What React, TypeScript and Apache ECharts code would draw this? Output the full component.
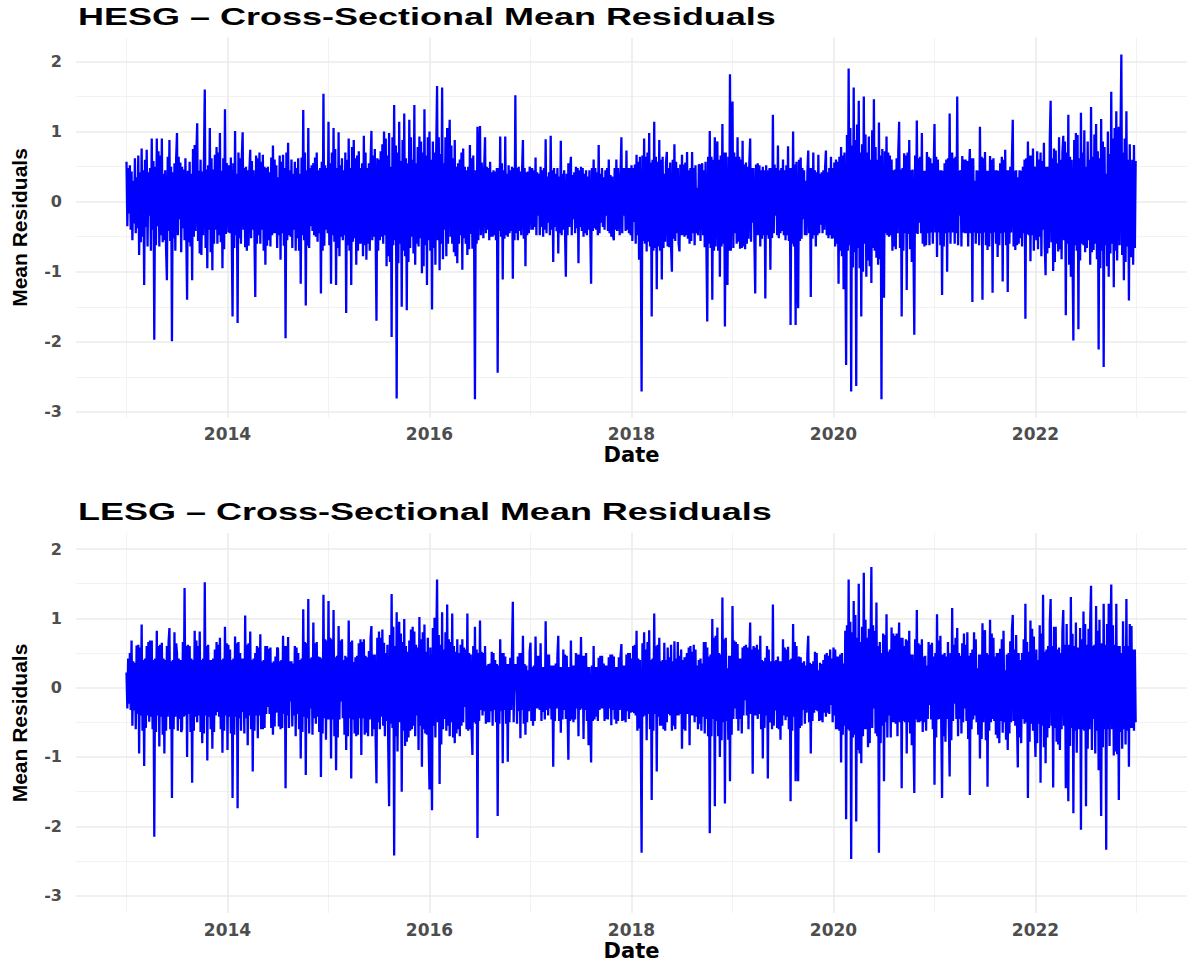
import React, { useEffect, useRef } from "react";
import * as echarts from "echarts";

// ---------- data (three values per ~1/40 year) ----------
const startYear = 2013;
const stepsPerYear = 120;

const panelTitles = [
  "HESG \u2013 Cross-Sectional Mean Residuals",
  "LESG \u2013 Cross-Sectional Mean Residuals",
];

const hesgValues = [
  0.57,-0.35,0.48,-0.17,0.52,-0.4,0.43,-0.55,0.3,-0.31,0.62,-0.45,0.35,-0.38,0.66,-0.76,0.42,-0.58,0.76,-0.5,0.45,-1.19,0.6,-0.36,0.74,-0.64,0.42,-0.2,0.48,-0.7,0.9,-0.4,0.58,-1.97,0.5,-0.62,0.9,-0.35,0.72,-0.64,0.66,-0.48,0.9,-0.58,0.4,-0.55,0.45,-0.66,-1.12,0.64,-0.42,0.88,-0.56,0.5,-1.99,0.42,-0.52,0.55,-0.7,0.62,
  0.98,-0.48,0.64,-0.25,0.56,-0.72,0.5,-0.38,0.46,-0.55,0.62,-0.45,-1.40,0.44,-0.58,0.57,-0.64,0.4,-1.12,0.75,-0.5,0.81,-0.42,0.68,1.12,-0.56,0.44,-0.74,0.6,-0.76,0.43,-0.48,0.58,1.60,-0.66,0.46,-0.95,0.52,-0.4,1.05,-0.72,0.62,-0.98,0.46,-0.6,0.67,-0.4,0.78,-0.6,0.7,-0.48,0.98,-0.58,0.44,-0.95,0.62,-0.68,1.32,-0.46,0.55,
  0.38,-0.44,0.52,-0.45,0.63,-0.42,-1.64,0.55,-0.66,1.01,-0.48,0.4,-1.73,0.7,-0.52,0.62,-0.6,0.64,0.99,-0.4,0.48,-0.65,0.5,-0.7,0.45,-0.63,0.44,0.74,-0.52,0.58,-0.4,0.45,-0.48,-1.36,0.66,-0.6,0.62,-0.48,0.7,-0.6,0.57,-0.4,0.67,-0.7,0.5,-0.9,0.48,-0.63,0.5,-0.55,0.42,-0.64,0.63,-0.48,0.80,-0.45,0.6,-0.45,0.52,-0.66,
  0.35,-0.48,0.66,-0.83,0.57,-0.45,0.67,-0.63,0.48,-1.95,0.7,-0.55,0.84,-0.48,0.45,-0.5,0.6,-0.66,0.4,-0.4,0.57,-0.7,0.48,-0.52,0.62,-0.7,0.4,-1.17,0.63,-0.48,1.31,-0.55,0.7,-1.48,0.45,-0.63,1.05,-0.66,0.48,-0.35,0.52,-0.42,0.55,-0.48,0.63,-0.5,0.7,-0.57,0.45,-0.45,0.48,-1.31,0.57,-0.7,1.54,-0.63,0.52,-0.4,0.48,-0.45,
  1.14,-0.62,0.55,-1.17,0.7,-0.48,1.05,-0.57,0.75,-1.19,0.48,-0.66,0.99,-0.78,0.52,-0.5,0.62,-0.55,0.45,-0.48,0.7,-1.59,0.6,-0.62,0.90,-0.7,0.48,-1.19,0.78,-0.57,0.88,-0.52,0.62,-0.9,0.66,-0.7,0.72,-0.6,0.48,-0.6,0.55,-0.78,0.94,-0.62,0.7,-0.83,0.48,-0.6,0.55,-0.7,0.57,1.01,-0.55,0.66,-0.5,0.75,-0.48,-1.70,0.62,-0.7,
  0.6,-0.55,0.72,-0.5,0.82,-0.6,1.0,-0.48,0.9,-0.92,0.66,-0.78,0.98,-0.86,0.5,-1.93,0.92,-0.62,1.38,-0.55,0.8,-2.81,0.7,-0.88,1.14,-0.6,0.58,-1.50,0.88,-0.7,1.26,-0.78,0.62,-1.55,0.55,-0.86,1.17,-0.66,0.92,-0.5,0.6,-0.74,1.38,-0.9,0.55,-0.6,0.78,-0.64,0.93,-0.52,0.86,-1.02,0.7,-0.92,1.32,-0.62,0.66,-1.19,0.92,-0.55,
  1.0,-0.7,0.6,-1.54,0.86,-0.66,0.7,-0.9,0.74,1.65,-0.55,0.92,-0.98,0.68,-0.6,1.63,-0.82,0.55,-0.4,0.92,-0.78,1.05,-0.6,0.7,1.17,-0.5,0.8,-0.6,0.62,-0.72,0.88,-0.78,0.5,-0.88,0.55,-0.6,0.6,-0.48,0.7,-0.97,0.76,-0.52,0.5,-0.6,0.45,-0.76,0.5,-0.68,0.81,-0.46,0.62,-0.67,0.66,-0.5,-2.82,0.45,-0.6,1.07,-0.55,0.48,
  1.08,-0.48,0.56,0.2,-0.52,0.48,0.92,-0.45,0.5,-0.4,0.48,-0.55,0.57,-0.5,0.42,-0.5,0.45,-0.48,0.43,-0.55,0.48,-2.44,0.48,-0.42,0.93,-0.5,0.55,-1.11,0.45,-0.53,0.93,-0.48,0.4,-0.5,0.52,-0.45,0.45,-0.42,0.5,-1.10,0.48,-0.55,1.52,-0.45,0.48,-0.55,0.5,-0.42,0.43,-0.48,0.45,0.88,-0.53,0.48,-0.92,0.42,-0.48,0.43,-0.45,0.5,
  0.43,-0.4,0.48,-0.4,0.45,-0.36,0.63,-0.48,0.42,-0.2,0.4,-0.48,0.5,-0.36,0.45,-0.5,0.48,-0.4,0.89,-0.45,0.36,-0.3,0.42,-0.48,0.94,-0.4,0.45,-0.86,0.48,-0.36,0.4,-0.42,0.48,-0.74,0.36,-0.45,0.87,-0.48,0.4,-0.4,0.45,-0.42,-1.07,0.4,-0.48,0.55,-0.36,0.45,0.64,-0.48,0.38,-0.25,0.42,-0.45,0.5,-0.38,0.48,-0.88,0.45,-0.36,
  0.5,-0.42,0.48,-0.5,0.4,-0.45,0.45,-0.48,0.36,-0.4,0.45,-0.4,-1.17,0.48,-0.42,0.6,-0.38,0.48,-0.4,0.42,-0.48,0.81,-0.45,0.4,-0.3,0.48,-0.36,0.35,-0.4,0.45,-0.2,0.48,-0.42,0.6,-0.45,0.38,-0.5,0.36,-0.48,-0.55,0.48,-0.4,0.6,-0.42,0.48,0.1,-0.48,0.4,0.92,-0.45,0.48,-0.2,0.48,-0.42,0.73,-0.4,0.48,-0.45,0.48,-0.48,
  0.52,-0.56,0.48,-0.29,0.53,-0.6,0.67,-0.48,0.57,-0.83,0.64,-0.48,-2.71,0.66,-0.56,0.90,-0.6,0.64,-0.71,0.7,-0.57,0.98,-0.64,0.56,-1.64,0.6,-0.7,1.14,-0.66,0.64,-1.25,0.57,-0.64,0.88,-0.7,0.6,-1.11,0.64,-0.66,0.4,-0.57,0.56,0.71,-0.64,0.48,-0.65,0.56,-0.64,-1.0,0.6,-0.53,0.82,-0.56,0.57,-0.45,0.48,-0.6,-0.71,0.53,-0.48,
  0.67,-0.48,0.53,-0.5,0.56,-0.48,0.71,-0.53,0.45,-0.6,0.48,-0.56,0.71,-0.45,0.48,-0.62,0.52,-0.45,0.2,-0.48,0.53,0.52,-0.56,0.48,0.55,-0.48,0.45,-0.65,0.57,-0.64,-1.71,0.64,-0.6,1.01,-0.66,0.64,-1.40,0.6,-0.7,0.92,-0.64,0.66,0.86,-0.7,0.6,-1.07,0.66,-0.64,1.11,-0.6,0.7,-1.78,0.7,-0.66,-1.19,0.64,-0.7,1.82,-0.7,0.78,
  1.43,-0.66,0.7,-0.45,0.64,-0.6,0.92,-0.57,0.64,-0.67,0.6,-0.66,0.87,-0.64,0.53,-0.68,0.56,-0.6,0.5,-0.53,0.56,0.90,-0.57,0.48,-0.3,0.48,-0.56,-1.31,0.53,-0.48,0.55,-0.48,0.52,-0.64,0.45,-0.53,0.5,-0.48,0.45,-1.38,0.52,-0.48,0.45,-0.53,0.48,-0.97,0.48,-0.52,1.24,-0.45,0.53,-0.2,0.48,-0.48,0.8,-0.52,0.45,-0.45,0.48,-0.42,
  0.6,-0.48,0.45,-0.55,0.52,-0.48,0.79,-0.56,0.48,-1.76,0.48,-0.6,1.0,-0.64,0.53,-1.76,0.57,-0.64,-1.52,0.6,-0.56,0.63,-0.53,0.48,-0.25,0.45,-0.48,0.3,-0.48,0.42,0.73,-0.45,0.48,-1.36,0.48,-0.53,0.7,-0.48,0.45,-0.64,0.42,-0.48,0.67,-0.45,0.4,-0.33,0.42,-0.45,0.45,-0.4,0.48,0.73,-0.48,0.42,-0.52,0.48,-0.48,0.64,-0.53,0.48,
  -0.52,0.56,-0.64,0.6,-0.6,0.57,-1.17,0.64,-0.7,0.78,-0.78,0.66,-1.25,0.7,-0.6,-2.33,0.95,-0.7,1.90,-0.62,1.05,-2.71,0.8,-0.94,1.63,-0.72,0.88,-2.63,1.1,-0.66,1.44,-0.95,0.7,-1.64,0.82,-1.0,1.5,-0.6,0.96,-1.07,0.7,-0.84,0.93,-0.92,0.6,-1.16,1.02,-0.66,1.46,-0.7,0.78,-0.8,0.6,-0.9,1.13,-0.82,0.66,-2.82,0.75,-0.58,
  -1.37,0.72,-0.45,0.93,-0.48,0.7,-0.5,0.66,-0.48,0.6,-0.7,0.45,-0.64,0.46,-0.68,0.62,-0.45,0.72,1.14,-0.66,0.46,-1.64,0.48,-0.7,0.69,-0.45,0.66,-1.26,0.7,-0.46,0.88,-0.68,0.45,-0.86,0.46,-0.66,-1.90,0.66,-0.45,1.16,-0.46,0.62,-0.3,0.64,-0.45,0.98,-0.6,0.44,-0.64,0.44,-0.62,0.71,-0.45,0.64,-0.62,0.62,-0.44,0.55,-0.6,0.45,
  1.11,-0.44,0.64,-0.79,0.6,-0.44,0.45,-0.62,0.45,-1.33,0.44,-0.64,0.55,-0.45,0.6,-1.0,0.62,-0.44,1.26,-0.6,0.45,0.7,-0.44,0.62,-0.6,0.64,-0.45,1.5,-0.62,0.44,-0.2,0.45,-0.64,0.65,-0.44,0.6,-0.45,0.6,-0.45,0.58,-0.64,0.44,0.75,-0.45,0.62,-1.43,0.62,-0.44,0.3,-0.6,0.45,-0.45,0.44,-0.62,1.07,-0.45,0.64,-1.40,0.62,-0.44,
  0.71,-0.62,0.44,-0.69,0.44,-0.64,0.65,-0.45,0.6,-1.30,0.62,-0.44,0.45,-0.6,0.45,-0.79,0.44,-0.62,0.55,-0.45,0.64,-1.14,0.6,-0.44,0.74,-0.62,0.45,-1.29,0.45,-0.6,0.5,-0.44,0.62,1.17,-0.64,0.44,-0.69,0.45,-0.62,0.35,-0.6,0.45,-0.52,0.44,-0.64,0.5,-0.45,0.6,-1.67,0.62,-0.46,0.86,-0.48,0.66,-0.85,0.66,-0.48,0.76,-0.7,0.5,
  0.4,-0.55,0.72,-0.68,0.6,-0.5,0.70,-0.78,0.58,-0.4,0.84,-0.62,-1.05,0.5,-0.74,0.5,-0.66,0.9,1.44,-0.58,0.62,-0.99,0.76,-0.86,0.73,-0.6,0.55,-0.71,0.92,-0.68,0.6,-0.82,0.7,0.94,-0.55,0.86,-1.62,0.7,-0.6,1.24,-0.9,0.64,-1.07,0.6,-0.78,-1.98,0.88,-0.62,0.98,-0.7,0.95,-1.82,0.62,-0.84,1.27,-0.6,0.7,-0.62,1.02,-0.72,
  0.5,-0.66,0.86,-0.55,0.6,-0.9,1.35,-0.72,0.64,-0.69,0.96,-0.6,1.11,-0.82,0.72,-2.11,0.62,-0.95,1.18,-0.7,0.86,-2.36,0.78,-0.62,0.4,-0.92,1.0,-1.07,0.68,-0.74,1.57,-0.6,0.9,-1.22,1.05,-0.7,1.29,-0.84,0.62,1.07,-0.62,0.96,2.10,-0.76,0.7,-1.12,0.9,-0.86,1.29,-0.64,0.6,-1.41,0.82,-0.7,-0.79,0.6,-0.9,0.81,-0.66,0.58,
];

const lesgValues = [
  0.22,-0.3,0.42,-0.23,0.5,-0.32,0.68,-0.55,0.38,-0.33,0.36,-0.6,0.61,-0.38,0.62,-0.95,0.58,-0.4,0.91,-0.62,0.4,-1.13,0.42,-0.58,0.6,-0.4,0.66,-0.49,0.68,-0.42,0.68,-0.6,0.4,-2.15,0.42,-0.64,0.82,-0.4,0.6,-0.85,0.62,-0.42,0.65,-0.68,0.42,-0.95,0.4,-0.62,0.6,-0.42,0.66,0.86,-0.6,0.38,-1.59,0.4,-0.6,0.8,-0.42,0.64,
  0.5,-0.62,0.42,-0.45,0.4,-0.64,-0.6,0.66,-0.42,1.44,-0.4,0.6,-1.0,0.62,-0.38,0.6,-0.64,0.42,-1.37,0.4,-0.62,0.82,-0.42,0.68,-0.5,0.6,-0.4,0.81,-0.64,0.4,-0.8,0.42,-0.66,1.52,-0.4,0.6,-1.05,0.62,-0.42,0.4,-0.6,0.4,-0.88,0.42,-0.64,0.55,-0.4,0.66,-0.35,0.62,-0.42,0.72,-0.6,0.4,-0.94,0.42,-0.62,0.88,-0.4,0.64,
  -0.9,0.62,-0.42,0.55,-0.66,0.4,-1.59,0.42,-0.68,0.74,-0.42,0.64,-1.74,0.66,-0.44,0.5,-0.62,0.42,-0.35,0.42,-0.66,1.04,-0.44,0.62,-0.83,0.64,-0.4,0.81,-0.6,0.4,-1.21,0.42,-0.62,0.5,-0.4,0.6,-0.73,0.58,-0.4,0.77,-0.6,0.38,-0.6,0.4,-0.58,0.6,-0.38,0.6,-0.28,0.56,-0.38,0.58,-0.58,0.36,-0.68,0.38,-0.56,0.45,-0.36,0.58,
  0.56,-0.56,0.38,-0.6,0.4,-0.58,0.75,-0.38,0.6,-1.45,0.6,-0.4,0.73,-0.58,0.38,-0.2,0.38,-0.56,0.35,-0.4,0.6,-0.7,0.58,-0.38,0.5,-0.6,0.4,-1.02,0.42,-0.64,1.13,-0.42,0.66,-1.26,0.64,-0.44,1.28,-0.66,0.42,-0.3,0.44,-0.68,0.94,-0.44,0.64,-0.52,0.66,-0.42,0.45,-0.64,0.44,-1.29,0.42,-0.66,1.34,-0.44,0.7,-0.75,0.68,-0.46,
  1.25,-0.46,0.72,-1.02,0.7,-0.46,1.12,-0.7,0.44,-1.19,0.46,-0.72,0.89,-0.46,0.68,-0.2,0.7,-0.44,0.4,-0.68,0.46,-0.9,0.44,-0.7,0.97,-0.44,0.66,-1.31,0.68,-0.46,0.37,-0.66,0.44,-0.7,0.46,-0.68,0.64,-0.44,0.7,-0.97,0.66,-0.44,0.7,-0.68,0.46,-0.65,0.44,-0.7,0.53,-0.46,0.72,0.89,-0.7,0.48,-0.6,0.48,-0.74,-1.38,0.72,-0.5,
  0.81,-0.6,0.72,-0.42,0.84,-0.55,0.65,-0.7,0.5,-0.48,0.62,-0.86,-1.71,0.76,-0.52,1.35,-0.58,0.88,-2.42,0.6,-0.7,1.09,-0.92,0.55,0.95,-0.5,0.78,-1.50,0.66,-0.62,0.99,-0.84,0.6,-0.78,0.52,-0.72,0.68,-0.62,0.84,-0.6,0.88,-0.55,0.81,-0.7,0.62,-0.4,0.58,-0.9,1.02,-0.55,0.7,-1.14,0.8,-0.6,0.91,-0.66,0.52,-0.68,0.72,-0.78,
  -1.47,0.58,-0.66,-1.77,0.86,-0.55,1.01,-0.72,0.6,1.56,-0.5,0.76,-1.39,0.62,-0.82,1.09,-0.6,0.55,-0.45,0.8,-0.62,1.2,-0.55,0.7,-0.7,0.66,-0.5,1.07,-0.72,0.6,-0.8,0.52,-0.66,0.7,-0.6,0.5,-0.7,0.62,-0.55,0.7,-0.5,0.58,-0.28,0.55,-0.6,1.07,-0.62,0.5,-0.6,0.48,-0.58,-0.97,0.6,-0.5,0.88,-0.52,0.55,-2.17,0.5,-0.48,
  0.97,-0.32,0.52,-0.4,0.5,-0.34,0.6,-0.52,0.32,-0.5,0.34,-0.5,0.35,-0.34,0.52,-0.55,0.5,-0.32,0.4,-0.5,0.34,-1.85,0.32,-0.52,0.70,-0.34,0.5,-1.09,0.5,-0.32,0.45,-0.52,0.34,-1.07,0.34,-0.5,0.43,-0.32,0.52,1.24,-0.5,0.34,-0.05,0.34,-0.52,0.45,-0.34,0.5,-0.73,0.5,-0.32,0.75,-0.52,0.34,-0.68,0.32,-0.5,0.25,-0.34,0.52,
  0.65,-0.48,0.3,-0.55,0.32,-0.48,0.74,-0.3,0.46,-0.3,0.46,-0.32,0.64,-0.48,0.3,-0.35,0.3,-0.46,0.96,-0.32,0.48,-0.4,0.48,-0.3,0.32,-0.46,0.32,-1.14,0.32,-0.48,0.35,-0.3,0.46,0.75,-0.48,0.3,-0.65,0.3,-0.46,0.55,-0.32,0.48,-0.45,0.46,-0.3,-1.04,0.3,-0.48,0.68,-0.46,0.32,-0.5,0.32,-0.46,0.5,-0.3,0.48,-0.7,0.48,-0.32,
  0.73,-0.3,0.46,-0.74,0.46,-0.32,0.5,-0.48,0.3,-0.83,0.3,-0.46,-1.08,0.32,-0.48,0.6,-0.46,0.3,-0.42,0.3,-0.48,0.43,-0.32,0.46,-0.3,0.46,-0.3,0.35,-0.48,0.32,-0.45,0.32,-0.46,0.44,-0.3,0.48,-0.54,0.48,-0.32,0.45,-0.46,0.3,-0.52,0.3,-0.48,0.44,-0.32,0.46,0.63,-0.48,0.32,-0.47,0.32,-0.5,0.48,-0.34,0.5,-0.45,0.5,-0.36,
  0.42,-0.35,0.6,-0.37,0.62,-0.4,0.82,-0.62,0.42,-0.59,0.4,-0.66,-2.38,0.64,-0.42,0.8,-0.4,0.55,-0.76,0.66,-0.38,0.83,-0.6,0.4,-1.62,0.42,-0.62,1.07,-0.38,0.6,-1.21,0.62,-0.42,0.72,-0.55,0.38,-0.55,0.4,-0.6,0.65,-0.62,0.4,-0.5,0.58,-0.38,0.44,-0.4,0.62,-0.62,0.38,-0.55,0.67,-0.6,0.42,-0.4,0.66,-0.4,0.46,-0.38,0.55,
  -0.88,0.4,-0.6,0.44,-0.62,0.38,0.5,-0.38,0.58,-0.83,0.6,-0.4,0.52,-0.4,0.62,-0.5,0.55,-0.42,0.32,-0.6,0.4,-0.52,0.42,-0.62,0.35,-0.42,0.66,-0.66,0.66,-0.45,0.58,-0.7,0.45,-2.10,0.48,-0.7,0.99,-0.45,0.72,-1.71,0.75,-0.48,0.87,-0.7,0.5,-1.0,0.48,-0.76,1.30,-0.5,0.7,-1.67,0.72,-0.48,0.28,-0.75,0.46,-1.35,0.46,-0.68,
  1.18,-0.45,0.68,-0.3,0.66,-0.45,0.63,-0.62,0.42,-0.45,0.42,-0.66,0.58,-0.4,0.6,-0.18,0.62,-0.4,0.58,-0.6,0.4,0.94,-0.38,0.55,-1.24,0.6,-0.4,0.58,-0.4,0.62,-0.45,0.55,-0.38,0.75,-0.6,0.4,-1.02,0.38,-0.58,0.43,-0.4,0.6,-1.31,0.55,-0.4,-0.5,0.38,-0.6,1.20,-0.55,0.38,-0.33,0.4,-0.58,0.45,-0.6,0.38,-0.75,0.38,-0.55,
  0.7,-0.4,0.58,-0.47,0.55,-0.42,0.59,-0.6,0.4,-1.64,0.42,-0.62,0.92,-0.42,0.66,-1.35,0.6,-0.45,-1.35,0.45,-0.58,0.44,-0.55,0.36,-0.32,0.38,-0.52,0.32,-0.36,0.5,0.75,-0.5,0.36,-0.95,0.34,-0.48,0.38,-0.36,0.52,-0.32,0.5,-0.34,0.25,-0.48,0.36,-0.47,0.34,-0.5,0.4,-0.36,0.48,-0.42,0.5,-0.36,0.46,-0.38,0.55,-0.25,0.42,-0.5,
  0.58,-0.4,0.55,-0.6,0.45,-0.6,0.45,-0.62,0.48,-1.08,0.5,-0.68,0.35,-0.55,0.82,-1.90,0.9,-0.6,1.56,-0.62,0.95,-2.47,0.8,-0.72,1.25,-0.68,1.05,-1.93,0.72,-0.9,1.50,-0.95,0.66,-1.09,0.88,-0.7,1.66,-0.6,0.98,-0.6,0.72,-0.86,0.85,-0.8,0.6,1.74,-0.58,0.9,-0.3,0.82,-0.66,1.23,-0.7,0.6,-2.38,0.66,-0.8,0.5,-0.55,0.78,
  -1.35,0.76,-0.5,1.06,-0.72,0.52,-0.4,0.55,-0.72,0.87,-0.5,0.78,-0.5,0.75,-0.52,0.78,-0.7,0.5,0.94,-0.5,0.72,-1.45,0.72,-0.48,0.6,-0.5,0.7,-0.95,0.68,-0.5,0.82,-0.66,0.48,-0.83,0.48,-0.7,-1.52,0.7,-0.46,1.12,-0.5,0.64,-0.5,0.62,-0.48,0.7,-0.64,0.45,-0.5,0.46,-0.62,0.32,-0.45,0.66,-0.25,0.62,-0.46,0.65,-0.6,0.45,
  -1.40,0.5,-0.72,1.06,-0.46,0.68,-0.45,0.75,-0.5,-1.59,0.48,-0.7,0.5,-0.78,0.45,-0.45,0.66,-0.48,-1.28,0.5,-0.76,1.15,-0.48,0.62,-0.23,0.72,-0.45,0.86,-0.7,0.5,-0.45,0.46,-0.66,0.64,-0.5,0.78,-0.3,0.62,-0.48,0.8,-0.74,0.46,-1.55,0.5,-0.6,0.55,-0.46,0.8,-0.4,0.7,-0.5,0.28,-0.68,0.48,-1.02,0.48,-0.74,0.93,-0.5,0.7,
  0.83,-0.76,0.5,-1.43,0.48,-0.62,0.98,-0.5,0.78,-0.45,0.72,-0.48,0.45,-0.68,0.5,-0.73,0.5,-0.8,0.56,-0.48,0.7,-0.65,0.82,-0.5,0.25,-0.75,0.48,-0.9,0.5,-0.66,0.67,-0.5,0.84,1.05,-0.48,0.55,-0.55,0.76,-0.5,-1.15,0.5,-0.72,0.4,-0.8,0.5,-0.45,0.7,-0.52,1.21,-0.5,0.66,-1.59,0.52,-0.78,0.97,-0.52,0.85,-0.62,0.74,-0.55,
  -1.0,0.55,-0.8,0.4,-0.52,0.9,-1.37,0.78,-0.55,1.34,-0.86,0.52,-1.09,0.55,-0.72,0.6,-0.58,0.95,1.28,-0.55,0.6,-1.44,0.88,-0.58,0.88,-0.78,0.55,-0.82,0.58,-0.9,0.5,-0.6,0.82,1.12,-0.55,0.62,-1.45,0.92,-0.6,-1.64,0.62,-0.84,1.31,-0.58,0.78,-1.81,0.6,-0.62,0.94,-0.94,0.58,0.3,-0.6,0.86,-2.05,0.7,-0.6,1.1,-0.62,0.92,
  -1.71,0.62,-0.88,0.85,-0.6,0.96,1.47,-0.9,0.6,-0.45,0.62,-0.95,1.18,-0.62,0.82,-1.19,0.98,-0.6,-1.85,0.64,-0.86,1.21,-0.6,0.62,-2.34,0.92,-0.6,1.21,-0.84,0.64,1.49,-0.6,0.9,-0.98,0.62,-0.92,1.21,-0.96,0.6,-1.62,0.6,-0.64,0.5,-0.88,0.96,-0.6,0.6,-0.82,1.28,-0.62,0.6,-1.14,0.92,-0.58,0.89,-0.58,0.55,-0.62,0.55,-0.5,
];

const xTickYears = [2014, 2016, 2018, 2020, 2022];
const xMinorYears = [2013, 2015, 2017, 2019, 2021, 2023];
const yTickValues = [-3, -2, -1, 0, 1, 2];
const yMinorValues = [-2.5, -1.5, -0.5, 0.5, 1.5];
const xRange = [2012.5, 2023.5];
const yRanges = [
  [-3.08, 2.343],
  [-3.251, 2.232],
];

// ---------- layout ----------
const grids = [
  { left: 76, top: 37.5, width: 1111, height: 380 },
  { left: 76, top: 533, width: 1111, height: 380 },
];
const titleCenters = [16.5, 511.5];

const GRID_MAJOR = { color: "#EBEBEB", width: 1.6, type: "solid" as const };
const GRID_MINOR = { color: "#F0F0F0", width: 0.9, type: "solid" as const };

function toPairs(values: number[]) {
  return values.map((v, i) => [startYear + i / stepsPerYear, v]);
}

export default function App() {
  const ref = useRef<HTMLDivElement | null>(null);

  useEffect(() => {
    if (!ref.current) return;
    const chart = echarts.init(ref.current, null, { renderer: "svg" });
    const seriesValues = [hesgValues, lesgValues];

    const xAxes = grids.map((_, i) => ({
      type: "value",
      gridIndex: i,
      min: xRange[0],
      max: xRange[1],
      axisLine: { show: false, onZero: false },
      axisTick: { show: false },
      splitLine: { show: false },
      axisLabel: {
        customValues: xTickYears,
        formatter: (v: number) =>
          xTickYears.indexOf(Math.round(v)) >= 0 && Math.abs(v - Math.round(v)) < 1e-6
            ? String(Math.round(v))
            : "",
        color: "#4D4D4D",
        fontFamily: "DejaVu Sans",
        fontWeight: "bold",
        fontSize: 17,
        margin: 8,
      },
      name: "Date",
      nameLocation: "middle",
      nameGap: 27,
      nameTextStyle: {
        color: "#000000",
        fontFamily: "DejaVu Sans",
        fontWeight: "bold",
        fontSize: 21,
      },
    }));

    const yAxes = grids.map((_, i) => ({
      type: "value",
      gridIndex: i,
      min: yRanges[i][0],
      max: yRanges[i][1],
      axisLine: { show: false, onZero: false },
      axisTick: { show: false },
      splitLine: { show: false },
      axisLabel: {
        customValues: yTickValues,
        formatter: (v: number) =>
          Math.abs(v - Math.round(v)) < 1e-6 && yTickValues.indexOf(Math.round(v)) >= 0
            ? String(Math.round(v))
            : "",
        color: "#4D4D4D",
        fontFamily: "DejaVu Sans",
        fontWeight: "bold",
        fontSize: 16,
        margin: 14,
      },
      name: "Mean Residuals",
      nameLocation: "middle",
      nameGap: 46,
      nameRotate: 90,
      nameTextStyle: {
        color: "#000000",
        fontFamily: "Liberation Sans",
        fontWeight: "bold",
        fontSize: 21,
      },
    }));

    const gridSeries = grids.map((_, i) => ({
      type: "line",
      xAxisIndex: i,
      yAxisIndex: i,
      data: [[2013, 0]],
      showSymbol: false,
      symbol: "none",
      lineStyle: { opacity: 0 },
      silent: true,
      z: 1,
      markLine: {
        silent: true,
        z: 1,
        symbol: ["none", "none"],
        label: { show: false },
        emphasis: { disabled: true },
        animation: false,
        data: [
          ...xMinorYears.map((y) => ({ xAxis: y, lineStyle: GRID_MINOR })),
          ...yMinorValues.map((v) => ({ yAxis: v, lineStyle: GRID_MINOR })),
          ...xTickYears.map((y) => ({ xAxis: y, lineStyle: GRID_MAJOR })),
          ...yTickValues.map((v) => ({ yAxis: v, lineStyle: GRID_MAJOR })),
        ],
      },
    }));

    const dataSeries = grids.map((_, i) => ({
      type: "line",
      xAxisIndex: i,
      yAxisIndex: i,
      data: toPairs(seriesValues[i]),
      showSymbol: false,
      symbol: "none",
      lineStyle: { color: "#0000FF", width: 2.3 },
      silent: true,
      z: 10,
    }));

    chart.setOption({
      animation: false,
      backgroundColor: "#FFFFFF",
      textStyle: { fontFamily: "Liberation Sans" },
      grid: grids,
      xAxis: xAxes,
      yAxis: yAxes,
      series: [...gridSeries, ...dataSeries],
      graphic: panelTitles.map((t, i) => ({
        type: "text",
        x: 78,
        y: titleCenters[i],
        scaleX: 1.5,
        silent: true,
        style: {
          text: t,
          fill: "#000000",
          fontFamily: "Liberation Sans",
          fontWeight: "bold",
          fontSize: 24,
          align: "left",
          verticalAlign: "middle",
        },
      })),
    });

    return () => {
      chart.dispose();
    };
  }, []);

  return (
    <div
      ref={ref}
      style={{ position: "fixed", left: 0, top: 0, width: 1187, height: 962, background: "#FFFFFF" }}
    />
  );
}
